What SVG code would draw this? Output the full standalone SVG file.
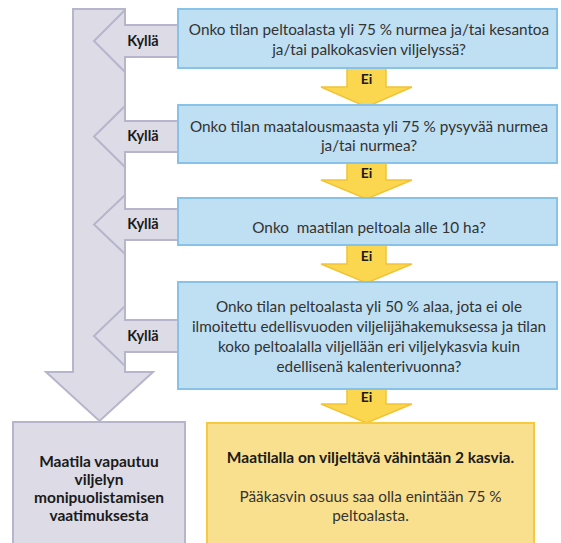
<svg xmlns="http://www.w3.org/2000/svg" width="561" height="543" viewBox="0 0 561 543">
<style>
.gray{fill:#dcdbe6;stroke:#b6b5cb;stroke-width:2;stroke-linejoin:miter}
.blue{fill:#bfdff2;stroke:#88c2e8;stroke-width:2}
.yarrow{fill:#fad74e;stroke:#f2c335;stroke-width:1.5;stroke-linejoin:miter}
.ybox{fill:#f9e08e;stroke:#f5c940;stroke-width:2}
text{font-family:Lato,"Liberation Sans",sans-serif;text-anchor:middle}
.q{font-size:15.3px;fill:#333}
.lbl{font-size:14.5px;font-weight:bold;fill:#1a1a1a}
.ei{font-size:14px;font-weight:bold;fill:#1a1a1a}
.b{font-size:15.5px;font-weight:bold;fill:#1a1a1a}
</style>
<rect width="561" height="543" fill="#ffffff"/>
<g id="connectors">
  <path id="main-yes-arrow" class="gray" d="M73,9 H125 V372 H153 L99.5,421 L46,372 H73 Z"/>
  <g id="kylla1">
    <path class="gray" d="M185,25 H125 V10 L94,41 L125,72 V57 H185 Z"/>
    <text class="lbl" x="143" y="46">Kyllä</text>
  </g>
  <g id="kylla2">
    <path class="gray" d="M185,121 H125 V106 L94,136.5 L125,167 V152 H185 Z"/>
    <text class="lbl" x="143" y="141">Kyllä</text>
  </g>
  <g id="kylla3">
    <path class="gray" d="M185,209 H125 V195 L94,224.5 L125,254 V240 H185 Z"/>
    <text class="lbl" x="143" y="229">Kyllä</text>
  </g>
  <g id="kylla4">
    <path class="gray" d="M185,320 H125 V306 L94,336 L125,366 V352 H185 Z"/>
    <text class="lbl" x="143" y="341">Kyllä</text>
  </g>
  <g id="ei1">
    <path class="yarrow" d="M347,67 H386 V87 H412 L366.5,107 L321,87 H347 Z"/>
    <text class="ei" x="366.5" y="84">Ei</text>
  </g>
  <g id="ei2">
    <path class="yarrow" d="M347,162 H386 V180 H412 L366.5,199 L321,180 H347 Z"/>
    <text class="ei" x="366.5" y="178">Ei</text>
  </g>
  <g id="ei3">
    <path class="yarrow" d="M347,244 H386 V264 H412 L366.5,283 L321,264 H347 Z"/>
    <text class="ei" x="366.5" y="261">Ei</text>
  </g>
  <g id="ei4">
    <path class="yarrow" d="M347,388 H386 V404 H412 L366.5,423 L321,404 H347 Z"/>
    <text class="ei" x="366.5" y="402">Ei</text>
  </g>
</g>
<g id="q1">
  <rect class="blue" x="178" y="9" width="379" height="59"/>
  <text class="q" x="369" y="35">Onko tilan peltoalasta yli 75 % nurmea ja/tai kesantoa</text>
  <text class="q" x="369" y="55">ja/tai palkokasvien viljelyssä?</text>
</g>
<g id="q2">
  <rect class="blue" x="178" y="105" width="379" height="58"/>
  <text class="q" x="369" y="132">Onko tilan maatalousmaasta yli 75 % pysyvää nurmea</text>
  <text class="q" x="369" y="151">ja/tai nurmea?</text>
</g>
<g id="q3">
  <rect class="blue" x="178" y="198" width="379" height="47"/>
  <text class="q" x="369" y="233" xml:space="preserve">Onko  maatilan peltoala alle 10 ha?</text>
</g>
<g id="q4">
  <rect class="blue" x="178" y="282" width="379" height="107"/>
  <text class="q" x="369" y="312">Onko tilan peltoalasta yli 50 % alaa, jota ei ole</text>
  <text class="q" x="369" y="332">ilmoitettu edellisvuoden viljelijähakemuksessa ja tilan</text>
  <text class="q" x="369" y="352">koko peltoalalla viljellään eri viljelykasvia kuin</text>
  <text class="q" x="369" y="372">edellisenä kalenterivuonna?</text>
</g>
<g id="exempt">
  <rect class="gray" x="13" y="422" width="172" height="130"/>
  <text class="b" x="99" y="467">Maatila vapautuu</text>
  <text class="b" x="99" y="485">viljelyn</text>
  <text class="b" x="99" y="503">monipuolistamisen</text>
  <text class="b" x="99" y="521">vaatimuksesta</text>
</g>
<g id="result">
  <rect class="ybox" x="207" y="423" width="327" height="130"/>
  <text class="b" x="370.5" y="463">Maatilalla on viljeltävä vähintään 2 kasvia.</text>
  <text class="q" x="370.5" y="502">Pääkasvin osuus saa olla enintään 75 %</text>
  <text class="q" x="370.5" y="521">peltoalasta.</text>
</g>
</svg>
